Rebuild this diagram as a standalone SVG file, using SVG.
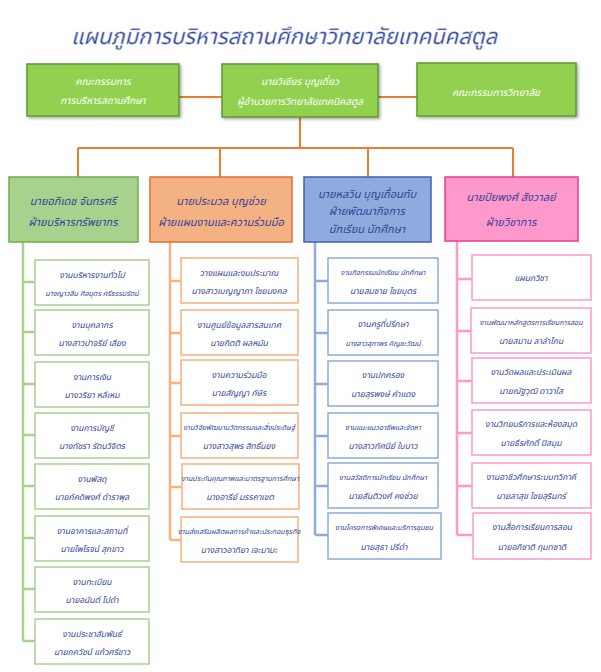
<svg xmlns="http://www.w3.org/2000/svg" width="601" height="672" viewBox="0 0 601 672">
<defs>
<filter id="sh" x="-10%" y="-10%" width="125%" height="130%">
<feDropShadow dx="1.5" dy="1.5" stdDeviation="1.5" flood-color="#000" flood-opacity="0.35"/>
</filter>
<style>
text{font-family:"Noto Sans Thai","Noto Sans","DejaVu Sans",sans-serif;font-style:italic;text-anchor:middle;fill:#34449a}
.title{font-size:22px;fill:#2f3f92;stroke:#b9c6ec;stroke-width:0.5px}
.top{fill:#92d050;stroke:#5e9a2c;stroke-width:1.5}
.tw{fill:#ffffff;font-size:10px}
.hd{font-size:11px}
.sb{font-size:8.5px}
.sbs{font-size:7.2px}
.g1{fill:#a9d18e;stroke:#70ad47;stroke-width:1.5}
.o1{fill:#f4b183;stroke:#d9722e;stroke-width:1.5}
.b1{fill:#8faadc;stroke:#3f62b0;stroke-width:1.5}
.p1{fill:#ff99cc;stroke:#e83e8c;stroke-width:1.5}
.g2{fill:#fff;stroke:#a9d18e;stroke-width:1.5}
.o2{fill:#fff;stroke:#f4b183;stroke-width:1.5}
.b2{fill:#fff;stroke:#8faadc;stroke-width:1.5}
.p2{fill:#fff;stroke:#ff99cc;stroke-width:1.5}
.cT{stroke:#ed7d31;stroke-width:2;fill:none}
.cg{stroke:#a9d18e;stroke-width:2.5;fill:none}
.co{stroke:#f4b183;stroke-width:2.5;fill:none}
.cb{stroke:#8faadc;stroke-width:2.5;fill:none}
.cp{stroke:#ff99cc;stroke-width:2.5;fill:none}
</style>
</defs>
<rect width="601" height="672" fill="#fff"/>
<text class="title" x="284" y="44">แผนภูมิการบริหารสถานศึกษาวิทยาลัยเทคนิคสตูล</text>

<g id="connectors">
<path class="cT" d="M179 97H222M378 97H417M300 117V148M78 148H513M78 148V177M220 148V177M368 148V177M513 148V177"/>
<path class="cg" d="M23 242V641M23 282H35M23 332H35M23 384H35M23 435H35M23 486H35M23 538H35M23 589H35M23 641H35"/>
<path class="co" d="M170 242V540M170 281H181M170 333H181M170 383H181M170 436H181M170 487H181M170 540H181"/>
<path class="cb" d="M315 242V535M315 281H328M315 333H328M315 384H328M315 436H328M315 486H328M315 535H328"/>
<path class="cp" d="M457 241V535M457 279H472M457 331H472M457 381H472M457 433H472M457 486H472M457 535H472"/>
</g>

<g id="top-left"><rect class="top" filter="url(#sh)" x="27" y="64" width="152" height="52"/><text class="tw" x="103" y="85">คณะกรรมการ</text><text class="tw" x="103" y="104">การบริหารสถานศึกษา</text></g>
<g id="top-center"><rect class="top" filter="url(#sh)" x="222" y="64" width="156" height="53"/><text class="tw" x="300" y="85">นายวิเชียร บุญเดี่ยว</text><text class="tw" x="300" y="105">ผู้อำนวยการวิทยาลัยเทคนิคสตูล</text></g>
<g id="top-right"><rect class="top" filter="url(#sh)" x="417" y="63" width="159" height="53"/><text class="tw" x="496" y="96">คณะกรรมการวิทยาลัย</text></g>

<g id="div-resource"><rect class="g1" x="9" y="177" width="129" height="65"/><text class="hd" x="73" y="205">นายอภิเดช จันทรศรี</text><text class="hd" x="73" y="226">ฝ่ายบริหารทรัพยากร</text></g>
<g id="div-plan"><rect class="o1" x="150" y="177" width="142" height="65"/><text class="hd" x="221" y="205">นายประมวล บุญช่วย</text><text class="hd" x="221" y="226">ฝ่ายแผนงานและความร่วมมือ</text></g>
<g id="div-student"><rect class="b1" x="304" y="177" width="127" height="65"/><text class="hd" x="367" y="198">นายหลวิน บุญเถื่อนทับ</text><text class="hd" x="367" y="215">ฝ่ายพัฒนากิจการ</text><text class="hd" x="367" y="233">นักเรียน นักศึกษา</text></g>
<g id="div-academic"><rect class="p1" x="445" y="177" width="133" height="64"/><text class="hd" x="511" y="201">นายปิยพงศ์ สังวาลย์</text><text class="hd" x="511" y="226">ฝ่ายวิชาการ</text></g>

<g id="g-1"><rect class="g2" x="35" y="260" width="114" height="45"/><text class="sb" x="92" y="278">งานบริหารงานทั่วไป</text><text class="sbs" x="92" y="296">นางญาวลีน ศิลบุตร ศรีธรรมรัตน์</text></g>
<g id="g-2"><rect class="g2" x="35" y="310" width="114" height="45"/><text class="sb" x="92" y="328">งานบุคลากร</text><text class="sb" x="92" y="346">นางสาวปาจรีย์ เสียง</text></g>
<g id="g-3"><rect class="g2" x="35" y="362" width="114" height="45"/><text class="sb" x="92" y="380">งานการเงิน</text><text class="sb" x="92" y="398">นางวริยา หลีเหม</text></g>
<g id="g-4"><rect class="g2" x="35" y="413" width="114" height="45"/><text class="sb" x="92" y="431">งานการบัญชี</text><text class="sb" x="92" y="449">นางทัชรา รัตนวิจิตร</text></g>
<g id="g-5"><rect class="g2" x="35" y="464" width="114" height="45"/><text class="sb" x="92" y="482">งานพัสดุ</text><text class="sb" x="92" y="500">นายภัคดิพงศ์ ดำราพุล</text></g>
<g id="g-6"><rect class="g2" x="35" y="516" width="114" height="45"/><text class="sb" x="92" y="534">งานอาคารและสถานที่</text><text class="sb" x="92" y="552">นายไพโรจน์ สุกขาว</text></g>
<g id="g-7"><rect class="g2" x="35" y="567" width="114" height="45"/><text class="sb" x="92" y="585">งานทะเบียน</text><text class="sb" x="92" y="603">นายอนันต์ โปดำ</text></g>
<g id="g-8"><rect class="g2" x="35" y="619" width="114" height="45"/><text class="sb" x="92" y="637">งานประชาสัมพันธ์</text><text class="sb" x="92" y="655">นายภควัชน์ แก้วศรีขาว</text></g>

<g id="o-1"><rect class="o2" x="181" y="258" width="117" height="45"/><text class="sb" x="239" y="276">วางแผนและงบประมาณ</text><text class="sb" x="239" y="294">นางสาวเบญญาภา ไชยมงคล</text></g>
<g id="o-2"><rect class="o2" x="181" y="310" width="117" height="45"/><text class="sb" x="239" y="328">งานศูนย์ข้อมูลสารสนเทศ</text><text class="sb" x="239" y="346">นายกิตติ ผลหมัน</text></g>
<g id="o-3"><rect class="o2" x="181" y="360" width="117" height="45"/><text class="sb" x="239" y="378">งานความร่วมมือ</text><text class="sb" x="239" y="396">นายสัญญา กัษิร</text></g>
<g id="o-4"><rect class="o2" x="181" y="413" width="117" height="45"/><text class="sbs" x="239" y="430">งานวิจัยพัฒนานวัตกรรมและสิ่งประดิษฐ์</text><text class="sb" x="239" y="449">นางสาวสุพร สิทธิ์นยง</text></g>
<g id="o-5"><rect class="o2" x="182" y="464" width="117" height="45"/><text class="sbs" x="240" y="481">งานประกันคุณภาพและมาตรฐานการศึกษา</text><text class="sb" x="240" y="500">นางอารีย์ มรรคาเขต</text></g>
<g id="o-6"><rect class="o2" x="181" y="517" width="117" height="45"/><text class="sbs" x="239" y="534">งานส่งเสริมผลิตผลการค้าและประกอบธุรกิจ</text><text class="sb" x="239" y="553">นางสาวอาทิยา เจะมามะ</text></g>

<g id="b-1"><rect class="b2" x="328" y="258" width="110" height="45"/><text class="sbs" x="383" y="275">งานกิจกรรมนักเรียน นักศึกษา</text><text class="sb" x="383" y="294">นายสมชาย ไชยบุตร</text></g>
<g id="b-2"><rect class="b2" x="328" y="310" width="110" height="45"/><text class="sb" x="383" y="327">งานครูที่ปรึกษา</text><text class="sbs" x="383" y="346">นางสาวสุภาพร คิญชะวัฒน์</text></g>
<g id="b-3"><rect class="b2" x="328" y="361" width="110" height="45"/><text class="sb" x="383" y="378">งานปกครอง</text><text class="sb" x="383" y="397">นายสุรพงษ์ คำแดง</text></g>
<g id="b-4"><rect class="b2" x="328" y="413" width="110" height="45"/><text class="sbs" x="383" y="430">งานแนะแนวอาชีพและจัดหา</text><text class="sb" x="383" y="449">นางสาวทัศนีย์ ใบบาว</text></g>
<g id="b-5"><rect class="b2" x="328" y="463" width="110" height="45"/><text class="sbs" x="383" y="480">งานสวัสดิการนักเรียน นักศึกษา</text><text class="sb" x="383" y="499">นายสันติวงศ์ คงช่วย</text></g>
<g id="b-6"><rect class="b2" x="328" y="513" width="113" height="46"/><text class="sbs" x="384" y="530">งานโครงการพิเศษและบริการชุมชน</text><text class="sb" x="384" y="550">นายสุธา ปรีดำ</text></g>

<g id="p-1"><rect class="p2" x="472" y="255" width="119" height="45"/><text class="sb" x="531" y="281">แผนกวิชา</text></g>
<g id="p-2"><rect class="p2" x="471" y="308" width="120" height="45"/><text class="sbs" x="531" y="325">งานพัฒนาหลักสูตรการเรียนการสอน</text><text class="sb" x="531" y="344">นายสมาน ลาลำโกน</text></g>
<g id="p-3"><rect class="p2" x="472" y="358" width="119" height="45"/><text class="sb" x="531" y="375">งานวัดผลและประเมินผล</text><text class="sb" x="531" y="394">นายณัฐวุฒิ ดาวาใส</text></g>
<g id="p-4"><rect class="p2" x="472" y="410" width="119" height="45"/><text class="sb" x="531" y="427">งานวิทยบริการและห้องสมุด</text><text class="sb" x="531" y="446">นายธีรศักดิ์ ปิสมุม</text></g>
<g id="p-5"><rect class="p2" x="472" y="463" width="119" height="45"/><text class="sb" x="531" y="480">งานอาชีวศึกษาระบบทวิภาคี</text><text class="sb" x="531" y="499">นายลาสุข ไชยสุรินทร์</text></g>
<g id="p-6"><rect class="p2" x="473" y="513" width="118" height="46"/><text class="sb" x="532" y="530">งานสื่อการเรียนการสอน</text><text class="sb" x="532" y="550">นายอภิชาติ กุมทชาติ</text></g>
</svg>
